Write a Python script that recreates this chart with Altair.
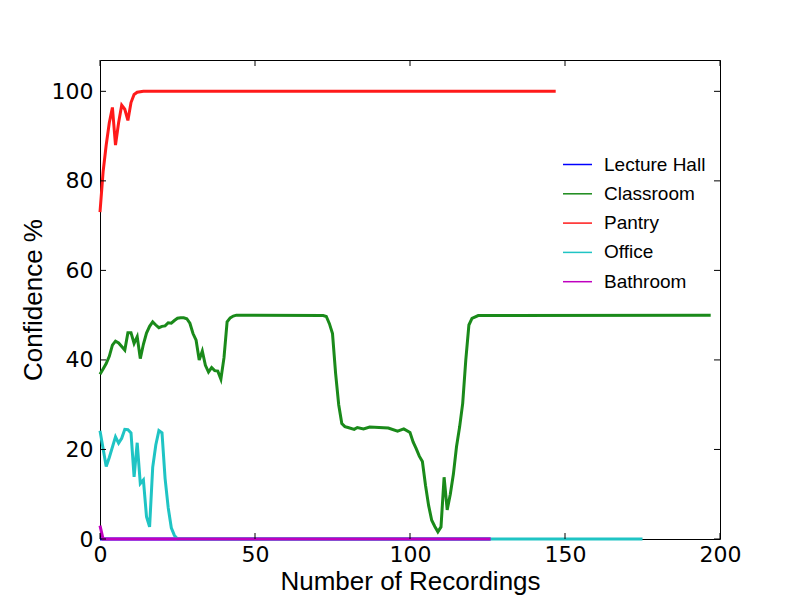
import altair as alt
import pandas as pd

series_names = ["Lecture Hall", "Classroom", "Pantry", "Office", "Bathroom"]
series_colors = ["#0000ff", "#1a8a1a", "#ff1a1a", "#1fc4c4", "#bf00bf"]

lecture_x = [0, 126]
lecture_y = [0, 0]

classroom_x = [0, 1, 2, 3, 4, 5, 6, 7, 8, 9, 10, 11, 12, 13, 14, 15, 16, 17, 18, 19, 20,
               21, 22, 23, 24, 25, 26, 27, 28, 29, 30, 31, 32, 33, 34, 35, 36, 37, 38, 39,
               40, 41, 42, 43, 44, 72, 73, 74, 75, 76, 77, 78, 79, 80, 82, 83, 85, 87, 90,
               93, 96, 98, 100, 101, 102, 103, 104, 105, 106, 107, 108, 109, 110, 111, 112,
               113, 114, 115, 116, 117, 118, 119, 120, 122, 197]
classroom_y = [36.8, 38.0, 39.2, 40.8, 43.3, 44.2, 43.8, 43.0, 42.2, 46.1, 46.1, 43.7, 45.2,
               40.3, 43.5, 46.0, 47.5, 48.5, 47.8, 47.2, 47.5, 47.6, 48.3, 48.2, 48.8, 49.3,
               49.4, 49.4, 49.2, 48.2, 45.9, 44.4, 40.0, 42.0, 38.8, 37.3, 38.3, 37.6, 37.5,
               35.7, 40.5, 48.5, 49.4, 49.8, 50.0, 49.9, 49.7, 48.1, 45.9, 37.0, 30.0, 25.8,
               25.1, 24.9, 24.5, 24.9, 24.6, 25.0, 24.9, 24.8, 24.1, 24.6, 23.8, 21.7, 20.2,
               18.5, 17.3, 12.0, 7.5, 4.2, 2.8, 1.6, 2.7, 13.8, 6.5, 10.0, 14.5, 20.6, 25.0,
               30.3, 40.0, 47.8, 49.3, 49.9, 50.0]

pantry_x = [0, 1, 2, 3, 4, 5, 6, 7, 8, 9, 10, 11, 12, 14, 147]
pantry_y = [73.0, 82.0, 88.0, 93.0, 96.4, 88.0, 93.0, 96.9, 96.0, 93.5, 97.5, 99.3, 99.8,
            100.0, 100.0]

office_x = [0, 2, 3, 5, 6, 7, 8, 9, 10, 11, 12, 13, 14, 15, 16, 17, 18, 19, 20, 21, 22,
            23, 24, 25, 175]
office_y = [24.2, 16.2, 18.2, 22.8, 21.4, 22.5, 24.5, 24.4, 23.7, 13.9, 21.5, 12.4, 13.2,
            5.0, 2.7, 16.0, 21.0, 24.2, 23.7, 13.5, 7.0, 2.5, 0.8, 0.0, 0.0]

bathroom_x = [0, 1, 126]
bathroom_y = [3.0, 0.0, 0.0]

x_ticks = [0, 50, 100, 150, 200]
y_ticks = [0, 20, 40, 60, 80, 100]

rows = []
for name, xs, ys in [("Lecture Hall", lecture_x, lecture_y),
                     ("Classroom", classroom_x, classroom_y),
                     ("Pantry", pantry_x, pantry_y),
                     ("Office", office_x, office_y),
                     ("Bathroom", bathroom_x, bathroom_y)]:
    for xv, yv in zip(xs, ys):
        rows.append({"room": name, "n": xv, "conf": yv})
df = pd.DataFrame(rows)

W, H = 620, 479
xscale = alt.Scale(domain=[0, 200], nice=False, zero=False)
yscale = alt.Scale(domain=[0, 107], nice=False, zero=False)

lines = alt.Chart(df).mark_line(strokeWidth=3, clip=False).encode(
    x=alt.X("n:Q", scale=xscale,
            axis=alt.Axis(values=x_ticks, title="Number of Recordings", grid=False,
                          ticks=False, domain=False, labelPadding=5, titlePadding=3,
                          labelFont="DejaVu Sans", labelFontSize=22,
                          titleFont="Liberation Sans", titleFontSize=26,
                          titleFontWeight="normal", labelColor="black",
                          titleColor="black", labelFlush=False)),
    y=alt.Y("conf:Q", scale=yscale,
            axis=alt.Axis(values=y_ticks, title="Confidence %", grid=False,
                          ticks=False, domain=False, labelPadding=7, titlePadding=5,
                          labelFont="DejaVu Sans", labelFontSize=22,
                          titleFont="Liberation Sans", titleFontSize=26,
                          titleFontWeight="normal", labelColor="black",
                          titleColor="black")),
    color=alt.Color("room:N",
                    scale=alt.Scale(domain=series_names, range=series_colors),
                    legend=alt.Legend(title=None, orient="none", legendX=462, legendY=89,
                                      symbolType="stroke", symbolSize=841,
                                      symbolStrokeWidth=1.5, labelFont="Liberation Sans",
                                      labelFontSize=19, labelOffset=11, rowPadding=3.3,
                                      padding=0, labelColor="black")),
    order=alt.Order("n:Q"),
    detail="room:N",
)

xt = alt.Chart(pd.DataFrame({"n": x_ticks}))
yt = alt.Chart(pd.DataFrame({"conf": y_ticks}))
tick_x_bottom = xt.mark_rule(color="black", strokeWidth=1).encode(
    x=alt.X("n:Q", scale=xscale), y=alt.value(H), y2=alt.value(H - 6))
tick_x_top = xt.mark_rule(color="black", strokeWidth=1).encode(
    x=alt.X("n:Q", scale=xscale), y=alt.value(0), y2=alt.value(6))
tick_y_left = yt.mark_rule(color="black", strokeWidth=1).encode(
    y=alt.Y("conf:Q", scale=yscale), x=alt.value(0), x2=alt.value(6))
tick_y_right = yt.mark_rule(color="black", strokeWidth=1).encode(
    y=alt.Y("conf:Q", scale=yscale), x=alt.value(W), x2=alt.value(W - 6))

chart = alt.layer(lines, tick_x_bottom, tick_x_top, tick_y_left, tick_y_right).properties(
    width=W, height=H,
    background="white",
    autosize=alt.AutoSizeParams(type="none"),
    padding={"left": 92, "top": 52, "right": 72, "bottom": 61},
).configure_view(stroke="black", strokeWidth=1)

chart.save("out.html", embed_options={"renderer": "svg", "actions": False})
